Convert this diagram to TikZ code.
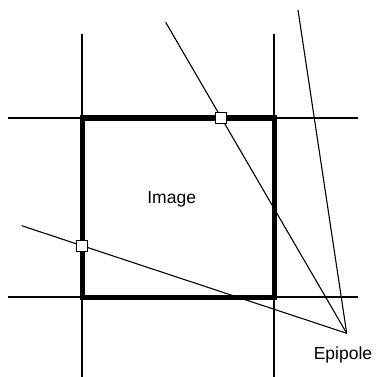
\documentclass[tikz,border=0pt]{standalone}
\usepackage{fontspec}
\setmainfont{Liberation Sans}
\begin{document}
\begin{tikzpicture}[x=1pt,y=-1pt,
  thin line/.style={line width=1.1pt,black},
  frame/.style={line width=5pt,black},
  marker/.style={draw=black,line width=1pt,fill=white,minimum size=11pt,inner sep=0pt,rectangle},
  lbl/.style={font=\fontsize{17.5}{20}\selectfont,inner sep=0pt,anchor=base}]
\useasboundingbox (0,0) rectangle (377,377);
% grid lines
\coordinate (vl1) at (82,34); \coordinate (vl2) at (82,377);
\coordinate (vr1) at (274,34); \coordinate (vr2) at (274,377);
\coordinate (ht1) at (8,118); \coordinate (ht2) at (358,118);
\coordinate (hb1) at (8,297); \coordinate (hb2) at (358,297);
\draw[thin line] (vl1) -- (vl2);
\draw[thin line] (vr1) -- (vr2);
\draw[thin line] (ht1) -- (ht2);
\draw[thin line] (hb1) -- (hb2);
% image frame
\draw[frame] (82,118) rectangle (274,297);
% epipolar lines
\coordinate (E) at (346.7,333.3);
\coordinate (s1) at (165.7,22.3);
\coordinate (s2) at (298,10);
\coordinate (s3) at (21.7,225.7);
\draw[thin line] (s1) -- (E);
\draw[thin line] (s2) -- (E);
\draw[thin line] (s3) -- (E);
% markers
\node[marker] (m1) at (221.4,118) {};
\node[marker] (m2) at (82,245.8) {};
% labels
\node[lbl] (img) at (171.7,203.3) {Image};
\node[lbl] (epi) at (343,359) {Epipole};
\end{tikzpicture}
\end{document}
